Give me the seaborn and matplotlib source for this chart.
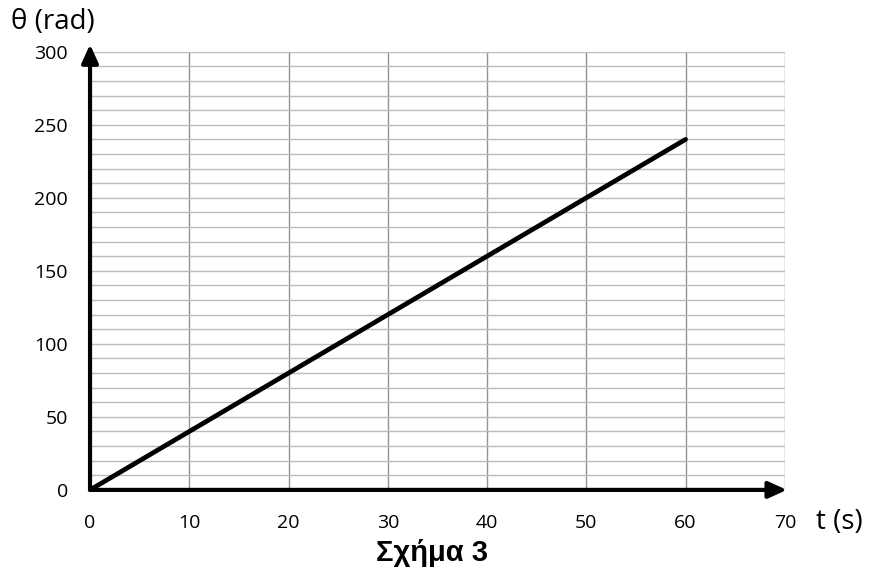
import matplotlib
matplotlib.use("Agg")
import matplotlib.pyplot as plt
import seaborn as sns
import pandas as pd

# data
t_values = [0, 60]
theta_values = [0, 240]
x_ticks = [0, 10, 20, 30, 40, 50, 60, 70]
y_ticks = [0, 50, 100, 150, 200, 250, 300]

sns.set_style("white")
plt.rcParams['font.family'] = ['Open Sans', 'DejaVu Sans']
plt.rcParams['text.color'] = 'black'
plt.rcParams['xtick.color'] = 'black'
plt.rcParams['ytick.color'] = 'black'

df = pd.DataFrame({"t": t_values, "theta": theta_values})

fig = plt.figure(figsize=(8.74, 5.75), dpi=100)
ax = fig.add_axes([0.103, 0.148, 0.795, 0.762])

# grid: vertical every 10 s, horizontal every 10 rad
for x in x_ticks:
    ax.axvline(x, color="#939393", lw=1.0, zorder=0)
for y in range(0, 301, 10):
    ax.axhline(y, color="#bcbcbc", lw=1.0, zorder=0)

sns.lineplot(data=df, x="t", y="theta", color="black", lw=3.4, ax=ax, zorder=3)

ax.set_xlim(0, 70)
ax.set_ylim(0, 300)
ax.set_xticks(x_ticks)
ax.set_yticks(y_ticks)
ax.set_xticklabels([str(v) for v in x_ticks], fontsize=14)
ax.set_yticklabels([str(v) for v in y_ticks], fontsize=14)
ax.tick_params(axis="x", length=5, width=1, color="#939393", pad=12)
ax.tick_params(axis="y", length=5, width=1, color="black", pad=11)
ax.set_xlabel("")
ax.set_ylabel("")
for s in ax.spines.values():
    s.set_visible(False)

# axis arrows
arrow = dict(arrowstyle="-|>,head_length=1.1,head_width=0.5",
             color="black", lw=3, shrinkA=0, shrinkB=0)
ax.annotate("", xy=(70.2, 0), xytext=(0, 0), xycoords="data",
            arrowprops=arrow, annotation_clip=False, zorder=4)
ax.annotate("", xy=(0, 305), xytext=(0, 0), xycoords="data",
            arrowprops=arrow, annotation_clip=False, zorder=4)

fig.text(11 / 874, 1 - 22 / 575, "θ (rad)", fontsize=20, ha="left", va="center")
fig.text(816 / 874, 1 - 522 / 575, "t (s)", fontsize=20, ha="left", va="center")
fig.text(432 / 874, 1 - 553 / 575, "Σχήμα 3", fontsize=21, fontweight="bold",
         family=["Liberation Sans", "DejaVu Sans"], ha="center", va="center")

fig.savefig("out.png", dpi=100)
